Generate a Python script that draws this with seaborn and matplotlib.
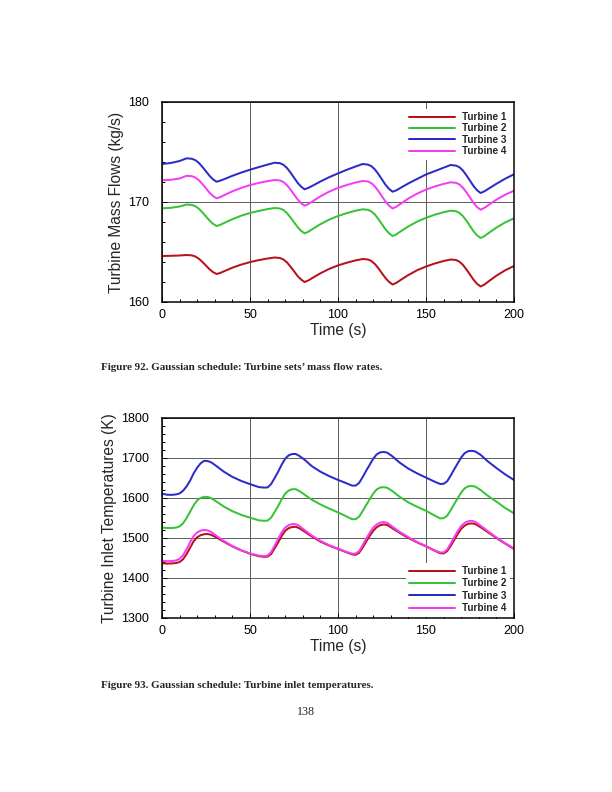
import matplotlib
matplotlib.use("Agg")
import matplotlib.pyplot as plt
import seaborn as sns
import pandas as pd
from matplotlib.ticker import MultipleLocator

# ---------------- data ----------------
series_names = ["Turbine 1", "Turbine 2", "Turbine 3", "Turbine 4"]
series_colors = ["#b5121b", "#36c436", "#2b2bc8", "#f53cf5"]

# Figure 92: mass flow rates (kg/s)
time_flow = [0, 5, 10,
             14, 17, 19, 21, 23, 25, 27, 29, 31, 33, 36, 40, 45, 50, 55, 60,
             64, 67, 69, 71, 73, 75, 77, 79, 81, 83, 86, 90, 95, 100, 105, 110,
             114, 117, 119, 121, 123, 125, 127, 129, 131, 133, 136, 140, 145, 150, 155, 160,
             164, 167, 169, 171, 173, 175, 177, 179, 181, 183, 186, 190, 195, 200]

flow_t1 = [164.60, 164.62, 164.65,
           164.70, 164.66, 164.55, 164.32, 164.00, 163.64, 163.28, 162.99, 162.80, 162.90, 163.13, 163.43, 163.74, 163.99, 164.19, 164.35,
           164.45, 164.40, 164.25, 163.96, 163.54, 163.08, 162.61, 162.25, 162.00, 162.14, 162.46, 162.87, 163.31, 163.66, 163.93, 164.16,
           164.30, 164.25, 164.10, 163.79, 163.36, 162.87, 162.39, 162.01, 161.75, 161.90, 162.25, 162.70, 163.18, 163.55, 163.85, 164.10,
           164.25, 164.20, 164.03, 163.71, 163.25, 162.74, 162.23, 161.82, 161.55, 161.72, 162.12, 162.63, 163.17, 163.60]

flow_t2 = [169.37, 169.42, 169.55,
           169.75, 169.71, 169.58, 169.32, 168.95, 168.55, 168.14, 167.82, 167.60, 167.71, 167.96, 168.28, 168.63, 168.90, 169.11, 169.29,
           169.40, 169.35, 169.20, 168.89, 168.46, 167.98, 167.50, 167.12, 166.87, 167.01, 167.35, 167.78, 168.24, 168.60, 168.89, 169.13,
           169.27, 169.22, 169.06, 168.74, 168.28, 167.77, 167.27, 166.87, 166.60, 166.75, 167.11, 167.56, 168.04, 168.42, 168.73, 168.98,
           169.13, 169.08, 168.91, 168.58, 168.12, 167.60, 167.08, 166.67, 166.40, 166.56, 166.95, 167.44, 167.96, 168.37]

flow_t3 = [173.80, 173.90, 174.10,
           174.37, 174.32, 174.18, 173.90, 173.50, 173.06, 172.62, 172.26, 172.03, 172.13, 172.33, 172.62, 172.94, 173.23, 173.49, 173.74,
           173.93, 173.88, 173.72, 173.40, 172.95, 172.44, 171.93, 171.54, 171.27, 171.40, 171.67, 172.05, 172.48, 172.86, 173.22, 173.55,
           173.80, 173.74, 173.58, 173.25, 172.78, 172.25, 171.72, 171.31, 171.03, 171.16, 171.46, 171.86, 172.31, 172.75, 173.09, 173.43,
           173.70, 173.64, 173.48, 173.14, 172.66, 172.13, 171.60, 171.18, 170.90, 171.05, 171.38, 171.82, 172.33, 172.77]

flow_t4 = [172.17, 172.22, 172.35,
           172.62, 172.58, 172.44, 172.17, 171.79, 171.36, 170.93, 170.60, 170.37, 170.48, 170.74, 171.07, 171.41, 171.69, 171.91, 172.09,
           172.20, 172.15, 171.99, 171.69, 171.25, 170.76, 170.27, 169.89, 169.63, 169.78, 170.12, 170.57, 171.04, 171.41, 171.70, 171.95,
           172.10, 172.05, 171.88, 171.55, 171.08, 170.56, 170.04, 169.63, 169.35, 169.51, 169.87, 170.35, 170.84, 171.24, 171.55, 171.81,
           171.97, 171.92, 171.75, 171.42, 170.96, 170.44, 169.92, 169.50, 169.23, 169.39, 169.76, 170.23, 170.73, 171.13]

# Figure 93: inlet temperatures (K)
time_temp = [0, 3, 6, 8,
             10, 12, 14, 16, 18, 20, 22, 24, 26,
             28, 31, 35, 40, 45, 50, 55, 58, 60,
             62, 64, 66, 68, 70, 72, 74, 76,
             78, 81, 85, 90, 95, 100, 105, 108, 110,
             112, 114, 116, 118, 120, 122, 124, 126,
             128, 131, 135, 140, 145, 150, 155, 158, 160,
             162, 164, 166, 168, 170, 172, 174, 176, 178,
             181, 185, 190, 195, 200]

temp_t1 = [1437, 1436, 1436.5, 1437.5,
           1440, 1447, 1460, 1476, 1492, 1502, 1507, 1509.5, 1510,
           1508, 1501, 1491, 1479, 1469, 1460.5, 1454.5, 1453, 1453.5,
           1460, 1474, 1489, 1505, 1518, 1524.5, 1527.5, 1528,
           1524.5, 1516, 1504, 1491, 1481, 1472.5, 1464, 1459, 1458,
           1463, 1476, 1491, 1505, 1518, 1527, 1532, 1534,
           1532.5, 1524, 1513, 1500, 1489, 1479, 1468, 1462, 1461.5,
           1467, 1480, 1495, 1510, 1523, 1531, 1535.5, 1536.5, 1535,
           1527, 1515, 1500, 1486, 1472.5]

temp_t2 = [1526, 1525, 1525, 1526,
           1529, 1537, 1550, 1566, 1582, 1594, 1600, 1603, 1602.5,
           1599.4, 1591, 1579, 1567, 1558, 1550.8, 1544.2, 1543, 1543.5,
           1550.9, 1565.1, 1580.1, 1596.7, 1610.9, 1618.8, 1622, 1622,
           1617.5, 1608.5, 1596, 1584, 1573.5, 1564, 1553.5, 1547, 1547,
           1553.4, 1567, 1582.2, 1596.6, 1611, 1621.4, 1626.2, 1627,
           1625.5, 1617, 1603, 1589, 1578, 1568, 1556, 1549, 1549.5,
           1555.5, 1569.3, 1584.6, 1599.2, 1613.8, 1624.3, 1629.2, 1630, 1628.5,
           1620, 1606, 1591, 1575, 1561.7]

temp_t3 = [1611, 1608, 1608, 1609,
           1611.4, 1618.2, 1629.3, 1643.7, 1661.6, 1676, 1687, 1693, 1692.3,
           1689, 1679.6, 1666.2, 1652.8, 1642.7, 1634.7, 1627.3, 1626, 1626.5,
           1634.9, 1649.9, 1665.7, 1683.3, 1698.3, 1706.7, 1710, 1710,
           1705.3, 1695.8, 1680, 1665.8, 1654.7, 1645.2, 1636.5, 1631, 1631,
           1637.7, 1652, 1668, 1683, 1698.2, 1709.1, 1714.2, 1715,
           1713.4, 1703.8, 1688.6, 1673.4, 1661.4, 1651, 1640.6, 1635, 1635.5,
           1641.6, 1655.8, 1671.5, 1686.5, 1701.4, 1712.2, 1717.2, 1718, 1716.3,
           1708, 1692, 1675, 1659, 1645]

temp_t4 = [1443, 1442, 1442.5, 1444,
           1448, 1457, 1472, 1490, 1505, 1514, 1518.5, 1520, 1519,
           1515, 1505, 1493, 1480, 1469.5, 1461.5, 1456, 1455, 1456,
           1465, 1481, 1498, 1514, 1526, 1532, 1535, 1534.5,
           1530, 1520, 1506.5, 1493, 1482, 1473.5, 1465, 1461, 1461,
           1467, 1482, 1498, 1513, 1526, 1534, 1538.5, 1540,
           1538, 1528, 1515.5, 1502, 1490, 1480, 1469, 1464, 1464,
           1471, 1486, 1502, 1517, 1530, 1538, 1542, 1543, 1540.5,
           1531, 1517.5, 1501.5, 1487, 1473.5]

caption_1 = "Figure 92. Gaussian schedule: Turbine sets\u2019 mass flow rates."
caption_2 = "Figure 93. Gaussian schedule: Turbine inlet temperatures."
page_number = "138"

# ---------------- style ----------------
sns.set_theme(style="ticks")
plt.rcParams["font.family"] = ["Liberation Sans", "DejaVu Sans"]
plt.rcParams["axes.linewidth"] = 1.5

W, H = 612, 792
fig = plt.figure(figsize=(W / 72, H / 72), dpi=72)
fig.patch.set_facecolor("white")


def fx(px):
    return px / W


def fy(py):
    return 1 - py / H


def make_axes(top_px, bottom_px):
    return fig.add_axes([fx(162), fy(bottom_px), (514 - 162) / W, (bottom_px - top_px) / H])


def draw(ax, t, values, ylim, ymaj, ymin, ylabel, legend_kw, spacing):
    frames = [pd.DataFrame({"Time": t, "Value": v, "Series": n})
              for n, v in zip(series_names, values)]
    df = pd.concat(frames, ignore_index=True)
    sns.lineplot(data=df, x="Time", y="Value", hue="Series",
                 palette=dict(zip(series_names, series_colors)),
                 estimator=None, sort=False, linewidth=2.0, ax=ax, legend=False)
    ax.set_xlim(0, 200)
    ax.set_ylim(*ylim)
    ax.xaxis.set_major_locator(MultipleLocator(50))
    ax.xaxis.set_minor_locator(MultipleLocator(10))
    ax.yaxis.set_major_locator(MultipleLocator(ymaj))
    ax.yaxis.set_minor_locator(MultipleLocator(ymin))
    ax.grid(True, which="major", color="#505050", linewidth=0.9)
    ax.set_axisbelow(True)
    ax.tick_params(which="both", direction="in", top=False, right=False,
                   colors="black", labelsize=12.5)
    ax.tick_params(which="major", length=5, width=1)
    ax.tick_params(which="minor", length=3, width=1)
    ax.tick_params(axis="y", which="major", pad=13)
    ax.tick_params(axis="x", which="major", pad=7)
    for s in ax.spines.values():
        s.set_color("black")
        s.set_linewidth(1.5)
    ax.set_xlabel("Time (s)", fontsize=15.5, labelpad=2)
    ax.set_ylabel(ylabel, fontsize=15.5, labelpad=4)
    leg = ax.legend(ax.lines[:4], series_names, frameon=True, fancybox=False,
                    facecolor="white", edgecolor="white", framealpha=1,
                    prop={"weight": "bold", "size": 10}, handlelength=4.6,
                    handletextpad=0.7, labelspacing=spacing, borderpad=0.35,
                    borderaxespad=0, **legend_kw)
    leg.get_frame().set_linewidth(0)


ax1 = make_axes(102, 302)
draw(ax1, time_flow, [flow_t1, flow_t2, flow_t3, flow_t4], (160, 180), 10, 2,
     "Turbine Mass Flows (kg/s)",
     dict(loc="upper right", bbox_to_anchor=(0.99, 0.967)), 0.14)

ax2 = make_axes(418, 618)
draw(ax2, time_temp, [temp_t1, temp_t2, temp_t3, temp_t4], (1300, 1800), 100, 20,
     "Turbine Inlet Temperatures (K)",
     dict(loc="lower right", bbox_to_anchor=(0.99, 0.006)), 0.24)

fig.text(fx(101), fy(367), caption_1, family=["Liberation Serif", "DejaVu Serif"],
         weight="bold", fontsize=11, ha="left", va="center")
fig.text(fx(101), fy(685), caption_2, family=["Liberation Serif", "DejaVu Serif"],
         weight="bold", fontsize=11, ha="left", va="center")
fig.text(fx(306), fy(712), page_number, family=["Liberation Serif", "DejaVu Serif"],
         fontsize=12, ha="center", va="center")

fig.savefig("out.png", dpi=72, facecolor="white")
